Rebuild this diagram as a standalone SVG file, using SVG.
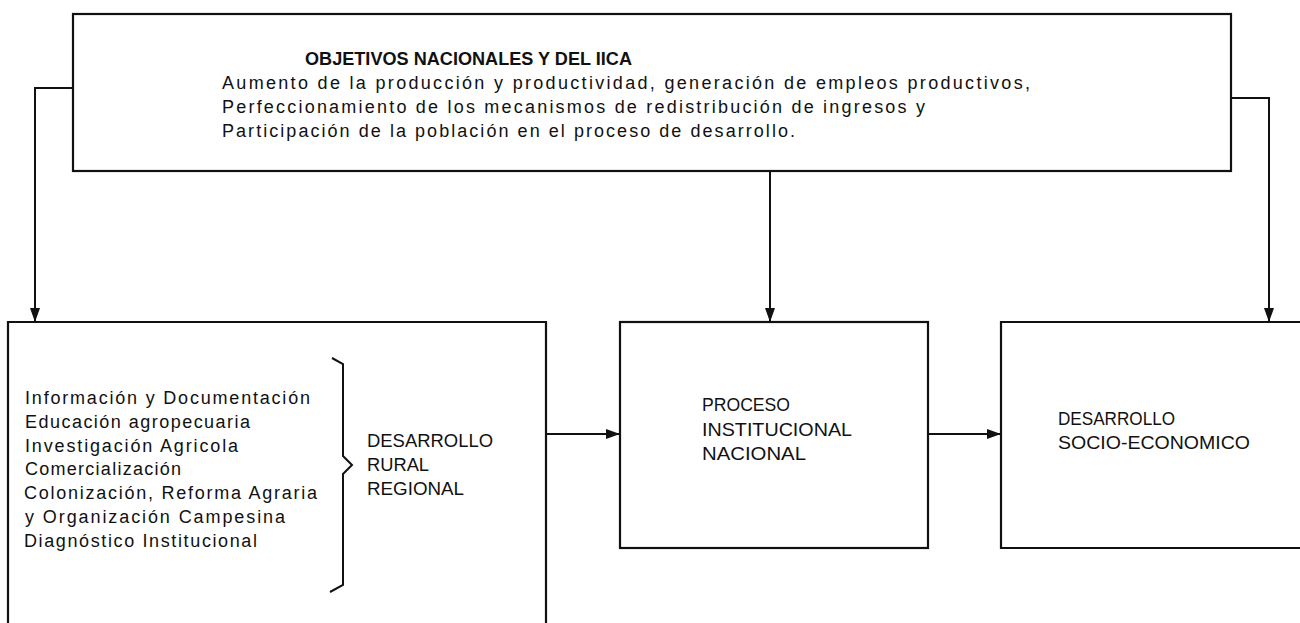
<svg xmlns="http://www.w3.org/2000/svg" width="1300" height="623" viewBox="0 0 1300 623">
<style>
.box{fill:none;stroke:#111;stroke-width:2.2}
.con{fill:none;stroke:#111;stroke-width:2}
text{font-family:"Liberation Sans",Arial,sans-serif;font-size:18px;fill:#111}
.t{font-weight:bold;font-size:17.5px}
.l{font-size:18px}
</style>
<defs>
<marker id="ah" markerWidth="14" markerHeight="10" refX="13" refY="5" orient="auto" markerUnits="userSpaceOnUse">
<path d="M0,0 L14,5 L0,10 Z" fill="#111"/>
</marker>
</defs>
<rect width="1300" height="623" fill="#fff"/>
<g id="objetivos">
<rect class="box" x="73" y="14" width="1158" height="157"/>
<text class="t" x="305" y="65" textLength="327" lengthAdjust="spacingAndGlyphs">OBJETIVOS NACIONALES Y DEL IICA</text>
<text x="222" y="89" textLength="808" lengthAdjust="spacing">Aumento de la producción y productividad, generación de empleos productivos,</text>
<text x="222" y="113" textLength="703" lengthAdjust="spacing">Perfeccionamiento de los mecanismos de redistribución de ingresos y</text>
<text x="222" y="137" textLength="573" lengthAdjust="spacing">Participación de la población en el proceso de desarrollo.</text>
</g>
<g id="rural">
<path class="box" d="M8,623 V322 H546 V623"/>
<text x="25" y="404" textLength="285" lengthAdjust="spacing">Información y Documentación</text>
<text x="25" y="428" textLength="225" lengthAdjust="spacing">Educación agropecuaria</text>
<text x="25" y="452" textLength="213" lengthAdjust="spacing">Investigación Agricola</text>
<text x="25" y="475" textLength="156" lengthAdjust="spacing">Comercialización</text>
<text x="24" y="499" textLength="293" lengthAdjust="spacing">Colonización, Reforma Agraria</text>
<text x="25" y="523" textLength="260" lengthAdjust="spacing">y Organización Campesina</text>
<text x="24" y="547" textLength="233" lengthAdjust="spacing">Diagnóstico Institucional</text>
<path class="con" d="M332,358 L343,364 V456 L352,465 L343,474 V585 L330,592"/>
<text class="l" x="367" y="447" textLength="126" lengthAdjust="spacingAndGlyphs">DESARROLLO</text>
<text class="l" x="367" y="471" textLength="62" lengthAdjust="spacingAndGlyphs">RURAL</text>
<text class="l" x="367" y="495" textLength="97" lengthAdjust="spacingAndGlyphs">REGIONAL</text>
</g>
<g id="proceso">
<rect class="box" x="620" y="322" width="308" height="226"/>
<text class="l" x="702" y="411" textLength="88" lengthAdjust="spacingAndGlyphs">PROCESO</text>
<text class="l" x="702" y="436" textLength="150" lengthAdjust="spacingAndGlyphs">INSTITUCIONAL</text>
<text class="l" x="702" y="460" textLength="104" lengthAdjust="spacingAndGlyphs">NACIONAL</text>
</g>
<g id="socio">
<path class="box" d="M1310,322 H1001 V548 H1310"/>
<text class="l" x="1058" y="425" textLength="117" lengthAdjust="spacingAndGlyphs">DESARROLLO</text>
<text class="l" x="1058" y="449" textLength="192" lengthAdjust="spacingAndGlyphs">SOCIO-ECONOMICO</text>
</g>
<g id="connectors">
<path class="con" d="M73,88 H35 V321" marker-end="url(#ah)"/>
<path class="con" d="M770,171 V321" marker-end="url(#ah)"/>
<path class="con" d="M1231,98 H1269 V321" marker-end="url(#ah)"/>
<path class="con" d="M546,434 H619" marker-end="url(#ah)"/>
<path class="con" d="M928,434 H1000" marker-end="url(#ah)"/>
</g>
</svg>
